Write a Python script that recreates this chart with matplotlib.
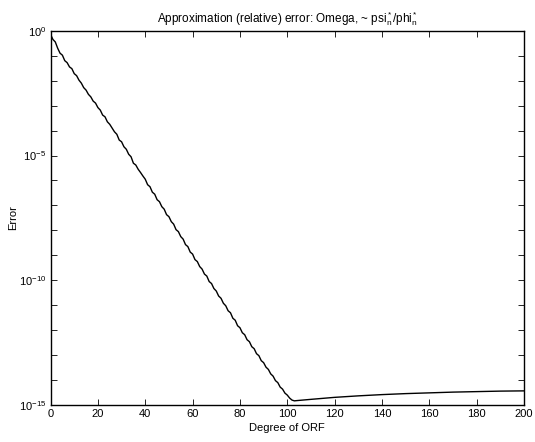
import numpy as np
import matplotlib
matplotlib.use("Agg")
import matplotlib.pyplot as plt
from matplotlib.ticker import FixedLocator, NullFormatter

plt.rcParams['font.family'] = ['Liberation Sans', 'DejaVu Sans']
plt.rcParams['mathtext.fontset'] = 'custom'
plt.rcParams['mathtext.rm'] = 'Liberation Sans'
plt.rcParams['mathtext.it'] = 'Liberation Sans'

# log10 of the relative error, degree 0..103
log_err_head = [
    -0.15, -0.35, -0.45, -0.70, -0.90, -0.98, -1.20, -1.28, -1.45, -1.52,
    -1.72, -1.80, -1.98, -2.10, -2.28, -2.38, -2.55, -2.65, -2.82, -2.90,
    -3.08, -3.18, -3.38, -3.45, -3.65, -3.75, -3.90, -4.05, -4.15, -4.38,
    -4.45, -4.65, -4.75, -4.95, -5.05, -5.31, -5.38, -5.55, -5.68, -5.82,
    -5.95, -6.17, -6.25, -6.47, -6.55, -6.77, -6.85, -7.05, -7.15, -7.37,
    -7.45, -7.65, -7.75, -7.97, -8.05, -8.25, -8.35, -8.57, -8.65, -8.87,
    -8.95, -9.17, -9.25, -9.45, -9.55, -9.75, -9.83, -10.05, -10.13, -10.33,
    -10.43, -10.63, -10.72, -10.92, -11.02, -11.22, -11.30, -11.52, -11.60, -11.82,
    -11.90, -12.10, -12.18, -12.38, -12.46, -12.66, -12.74, -12.94, -13.02, -13.22,
    -13.30, -13.48, -13.57, -13.75, -13.84, -14.02, -14.10, -14.28, -14.36, -14.52,
    -14.60, -14.72, -14.80, -14.83,
]
# slow rise after the minimum
tail_deg = [104, 110, 120, 130, 140, 150, 160, 170, 180, 190, 200]
log_err_tail = [-14.82, -14.77, -14.69, -14.63, -14.58, -14.54, -14.51,
                -14.48, -14.46, -14.44, -14.43]

deg = list(range(len(log_err_head))) + tail_deg
err = 10.0 ** np.array(log_err_head + log_err_tail)

x_ticks = [0, 20, 40, 60, 80, 100, 120, 140, 160, 180, 200]
y_ticks = [1e-15, 1e-10, 1e-5, 1e0]

fig = plt.figure(figsize=(5.35, 4.42), dpi=100)
ax = fig.add_axes([0.0945, 0.0835, 0.885, 0.847])
ax.plot(deg, err, color='black', linewidth=1.0)

ax.set_yscale('log')
ax.set_xlim(0, 200)
ax.set_ylim(1e-15, 1e0)
ax.set_xticks(x_ticks)
ax.yaxis.set_major_locator(FixedLocator(y_ticks))
ax.yaxis.set_minor_locator(FixedLocator([10.0 ** k for k in range(-15, 1)]))
ax.yaxis.set_minor_formatter(NullFormatter())
ax.tick_params(which='both', direction='in', top=True, right=True,
               labelsize=8, length=4, width=0.6, pad=3)
for s in ax.spines.values():
    s.set_linewidth(1.0)

ax.set_xlabel('Degree of ORF', fontsize=8, labelpad=3)
ax.set_ylabel('Error', fontsize=8, labelpad=1)
ax.set_title(r'Approximation (relative) error: Omega, ~ psi$_n^*$/phi$_n^*$',
             fontsize=8.5, pad=6)

fig.savefig('out.png', dpi=100)
